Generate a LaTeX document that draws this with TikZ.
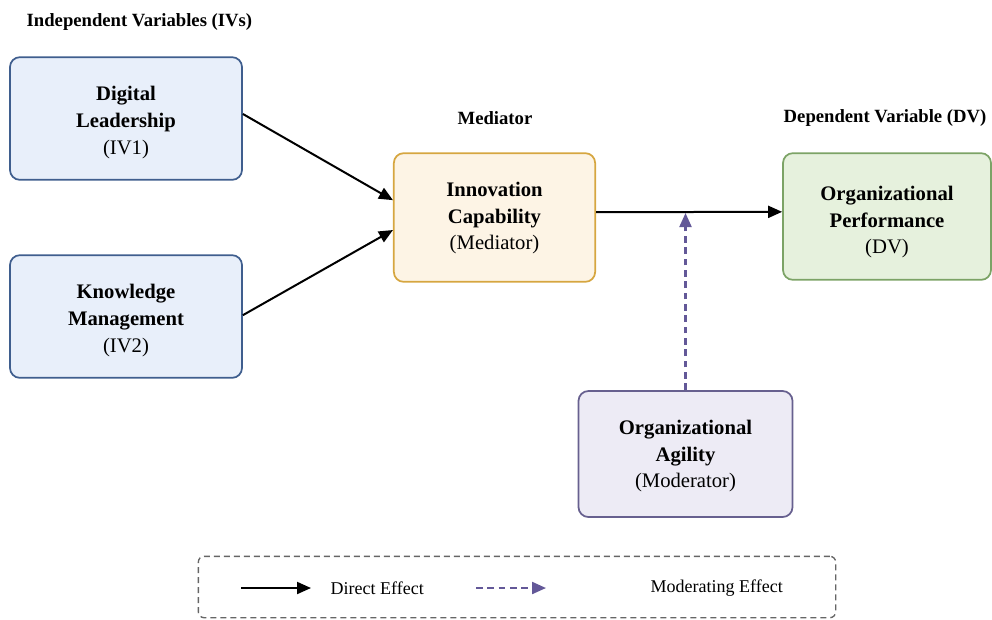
\documentclass[tikz,border=0pt]{standalone}
\usepackage{fontspec}
\setmainfont{Liberation Serif}
\usetikzlibrary{arrows.meta}

\definecolor{ivfill}{HTML}{E8EFFA}
\definecolor{ivdraw}{HTML}{3F5E8E}
\definecolor{medfill}{HTML}{FDF4E5}
\definecolor{meddraw}{HTML}{D6A640}
\definecolor{dvfill}{HTML}{E6F1DD}
\definecolor{dvdraw}{HTML}{7CA366}
\definecolor{modfill}{HTML}{EDEBF5}
\definecolor{moddraw}{HTML}{67608F}
\definecolor{modline}{HTML}{635898}

% push the text of a box down a little
\newcommand{\vpad}[1]{\rule{0pt}{#1}}

\begin{document}
\begin{tikzpicture}[
    x=0.75pt, y=-0.75pt,
    >={Triangle[length=10.5pt,width=9pt]},
    box/.style={
        draw,
        line width=1.3pt,
        rounded corners=2.6mm,
        align=center,
        inner sep=0pt,
        font=\fontsize{15.5}{20}\selectfont
    },
    heading/.style={
        font=\bfseries\fontsize{14}{16}\selectfont
    },
    direct/.style={
        ->,
        line width=1.5pt,
        draw=black
    },
    moderating/.style={
        ->,
        line width=1.6pt,
        draw=modline,
        dash pattern=on 5pt off 3.5pt
    }
]

    \useasboundingbox (0,0) rectangle (992,619);

    % headings
    \node[heading, anchor=west] (hiv) at (22,22) {Independent Variables (IVs)};
    \node[heading] (hmed) at (495,118) {Mediator};
    \node[heading, anchor=east] (hdv) at (991,118) {Dependent Variable (DV)};

    % variables
    \node[box, fill=ivfill, draw=ivdraw, minimum width=174pt, minimum height=92pt]
        (iv1) at (126,118.5) {\vpad{17pt}\textbf{Digital}\\\textbf{Leadership}\\(IV1)};
    \node[box, fill=ivfill, draw=ivdraw, minimum width=174pt, minimum height=92pt]
        (iv2) at (126,316.5) {\vpad{17pt}\textbf{Knowledge}\\\textbf{Management}\\(IV2)};
    \node[box, fill=medfill, draw=meddraw, minimum width=151pt, minimum height=96.5pt]
        (med) at (494.5,217.5) {\vpad{12pt}\textbf{Innovation}\\\textbf{Capability}\\(Mediator)};
    \node[box, fill=dvfill, draw=dvdraw, minimum width=156pt, minimum height=95pt]
        (dv) at (887,216.5) {\vpad{19.5pt}\textbf{Organizational}\\\textbf{Performance}\\(DV)};
    \node[box, fill=modfill, draw=moddraw, minimum width=160.5pt, minimum height=94.5pt]
        (mod) at (685.5,454) {\vpad{14pt}\textbf{Organizational}\\\textbf{Agility}\\(Moderator)};

    % effects
    \draw[direct] ([yshift=3.4pt]iv1.east) -- ([yshift=13pt]med.west);
    \draw[direct] ([yshift=1pt]iv2.east) -- ([yshift=-9.4pt]med.west);
    \draw[direct] ([yshift=4pt]med.east) -- ([yshift=3.5pt]dv.west);
    \coordinate (modtip) at (685.5,213);
    \draw[moderating] (mod.north) -- (modtip);

    % legend
    \node[draw=black!60, dash pattern=on 4.5pt off 3pt, line width=1pt, rounded corners=1.5mm,
        minimum width=478pt, minimum height=46pt] (legend) at (517,587) {};
    \coordinate (ds) at (241,588);
    \coordinate (de) at (311,588);
    \coordinate (ms) at (476,588);
    \coordinate (me) at (546,588);
    \draw[direct] (ds) -- (de);
    \draw[moderating] (ms) -- (me);
    \node[font=\fontsize{13.5}{16}\selectfont, anchor=west] (ldirect) at (326,588) {Direct Effect};
    \node[font=\fontsize{13.5}{16}\selectfont, anchor=west] (lmod) at (646,588) {Moderating Effect};

\end{tikzpicture}
\end{document}
